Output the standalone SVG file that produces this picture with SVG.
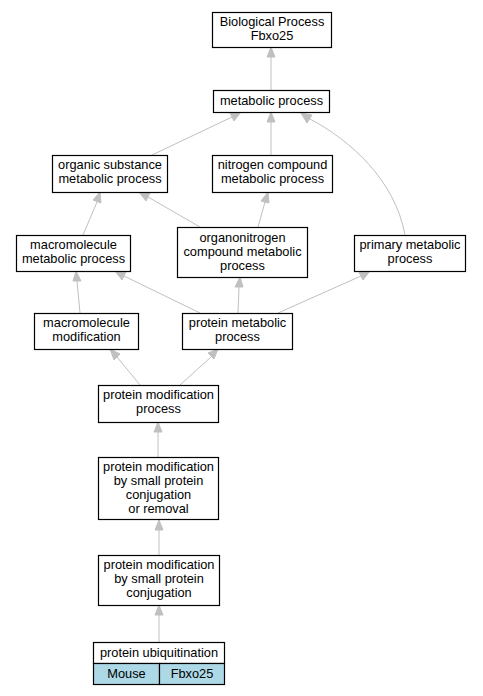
<svg xmlns="http://www.w3.org/2000/svg" width="483" height="696" viewBox="0 0 483 696">
<style>
rect{fill:#fff;stroke:#000;stroke-width:1.2}
rect.c{fill:#add8e6}
text{font-family:"Liberation Sans",Arial,sans-serif;font-size:12.8px;text-anchor:middle;fill:#000}
.e path{fill:none;stroke:#c0c0c0;stroke-width:1}
.e polygon{fill:#c0c0c0;stroke:#c0c0c0}
</style>
<rect x="0" y="0" width="483" height="696" style="fill:#fff;stroke:none"/>
<g class="e" id="edges">
<path d="M271,90 L271,57"/><polygon points="271,47 275,57 267,57"/>
<path d="M152,155 L232,117"/><polygon points="241,112 234,121 230,113"/>
<path d="M271,155 L271,122"/><polygon points="271,112 275,122 267,122"/>
<path d="M405,235 C395,180 350,140 310,119"/><polygon points="301,113 312,115 307,123"/>
<path d="M83,235 L97,202"/><polygon points="100,192 101,203 93,200"/>
<path d="M200,227 L148,197"/><polygon points="139,192 150,193 146,201"/>
<path d="M258,227 L265,202"/><polygon points="268,192 269,203 261,201"/>
<path d="M80,313 L77,281"/><polygon points="76,271 81,281 73,281"/>
<path d="M200,313 L124,276"/><polygon points="115,271 126,272 122,280"/>
<path d="M238,313 L239,287"/><polygon points="240,277 243,287 235,287"/>
<path d="M278,313 L361,276"/><polygon points="370,271 363,280 359,272"/>
<path d="M140,385 L117,357"/><polygon points="110,349 120,354 114,360"/>
<path d="M180,385 L211,357"/><polygon points="218,349 214,359 208,353"/>
<path d="M158,457 L158,432"/><polygon points="158,422 162,432 154,432"/>
<path d="M159,555 L159,530"/><polygon points="159,520 163,530 155,530"/>
<path d="M159,642 L159,615"/><polygon points="159,605 163,615 155,615"/>
</g>
<g id="n1"><rect x="212.5" y="12.5" width="119" height="35"/><text x="272" y="26">Biological Process</text><text x="272" y="40">Fbxo25</text></g>
<g id="n2"><rect x="213.5" y="90.5" width="116" height="22"/><text x="271.5" y="104.5">metabolic process</text></g>
<g id="n3"><rect x="52.5" y="155.5" width="115" height="37"/><text x="110" y="169">organic substance</text><text x="110" y="183">metabolic process</text></g>
<g id="n4"><rect x="212.5" y="155.5" width="120" height="37"/><text x="272.5" y="169">nitrogen compound</text><text x="272.5" y="183">metabolic process</text></g>
<g id="n5"><rect x="16.5" y="235.5" width="114" height="36"/><text x="73.5" y="249">macromolecule</text><text x="73.5" y="263">metabolic process</text></g>
<g id="n6"><rect x="177.5" y="227.5" width="130" height="50"/><text x="242.5" y="242">organonitrogen</text><text x="242.5" y="256">compound metabolic</text><text x="242.5" y="270">process</text></g>
<g id="n7"><rect x="354.5" y="235.5" width="111" height="36"/><text x="410" y="249">primary metabolic</text><text x="410" y="263">process</text></g>
<g id="n8"><rect x="34.5" y="313.5" width="104" height="36"/><text x="86.5" y="327">macromolecule</text><text x="86.5" y="341">modification</text></g>
<g id="n9"><rect x="182.5" y="313.5" width="110" height="36"/><text x="237.5" y="327">protein metabolic</text><text x="237.5" y="341">process</text></g>
<g id="n10"><rect x="98.5" y="385.5" width="120" height="37"/><text x="158.5" y="399">protein modification</text><text x="158.5" y="413">process</text></g>
<g id="n11"><rect x="98.5" y="457.5" width="120" height="62"/><text x="158.5" y="471">protein modification</text><text x="158.5" y="485">by small protein</text><text x="158.5" y="499">conjugation</text><text x="158.5" y="513">or removal</text></g>
<g id="n12"><rect x="98.5" y="555.5" width="121" height="50"/><text x="159" y="569">protein modification</text><text x="159" y="583">by small protein</text><text x="159" y="597">conjugation</text></g>
<g id="n13"><rect x="93.5" y="642.5" width="131" height="21"/><text x="159" y="656.5">protein ubiquitination</text><rect class="c" x="93.5" y="663.5" width="66" height="21"/><text x="126.5" y="677.5">Mouse</text><rect class="c" x="159.5" y="663.5" width="65" height="21"/><text x="192" y="677.5">Fbxo25</text></g>
</svg>
